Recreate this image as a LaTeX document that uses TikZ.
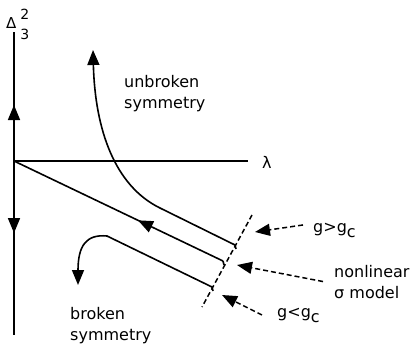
\documentclass[tikz,border=0pt]{standalone}
\usepackage{fontspec}
\setmainfont{DejaVu Sans}
\usetikzlibrary{arrows.meta,decorations.markings}

\begin{document}
\begin{tikzpicture}[x=1pt, y=-1pt, >={Triangle[length=15pt,width=12pt]},
  ln/.style={line width=1.6pt},
  dsh/.style={line width=1.5pt, dash pattern=on 5pt off 3pt},
  lab/.style={font=\fontsize{16}{21}\selectfont, inner sep=0pt, anchor=base west, align=left},
  midarr/.style={postaction={decorate}, decoration={markings, mark=at position #1 with {\arrow{>}}}}]
\useasboundingbox (0,0) rectangle (412,345);
% axes
\coordinate (o) at (14,161); \coordinate (top) at (14,32); \coordinate (bot) at (14,335);
\coordinate (xend) at (248,161);
\draw[ln, midarr=0.434] (o) -- (top);
\draw[ln, midarr=0.414] (o) -- (bot);
\draw[ln] (o) -- (xend);
\node[lab] (lam) at (262,168) {λ};
\node[lab] (del) at (6,29) {{\fontsize{15}{15}\selectfont Δ}\hspace{4pt}\rlap{\raisebox{9pt}{\fontsize{14}{14}\selectfont 2}}\raisebox{-11pt}{\fontsize{14}{14}\selectfont 3}};
% flow lines
\coordinate (uend) at (235,245); \coordinate (mend) at (223,261); \coordinate (lend) at (212,287);
\draw[ln, ->] ([shift={(1,4)}]uend) -- (uend) -- (160,208) .. controls (115,186) and (95,130) .. (93,50);
\draw[ln, midarr=0.407] (mend) -- (o);
\draw[ln] (mend) -- ++(1,4);
\draw[ln, ->] ([shift={(1,4)}]lend) -- (lend) -- (107,236) .. controls (86,234) and (78,246) .. (78,285);
\draw[dsh] (252,215) -- (202,307);
% labels
\node[lab] (ub) at (124,108) {unbroken\\symmetry};
\node[lab] (bk) at (70,340) {broken\\symmetry};
\node[lab] (gt) at (313,232) {g>g\raisebox{-5pt}{c}};
\node[lab] (nl) at (334,298) {nonlinear\\σ model};
\node[lab] (lt) at (277,317) {g<g\raisebox{-5pt}{c}};
\coordinate (tg1) at (255,232); \coordinate (tg2) at (237,265); \coordinate (tg3) at (222,295);
\draw[dsh, ->] ([xshift=-10pt,yshift=5pt]gt.west) -- (tg1);
\draw[dsh, ->] ([xshift=-11pt]nl.west) -- (tg2);
\draw[dsh, ->] ([xshift=-15pt]lt.west) -- (tg3);
\end{tikzpicture}
\end{document}
